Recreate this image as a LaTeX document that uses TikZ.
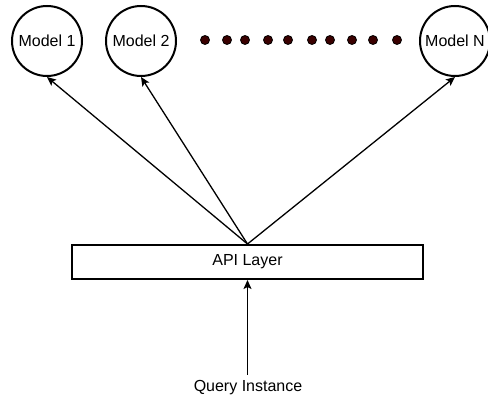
\documentclass[tikz,border=0pt]{standalone}
\usepackage{fontspec}
\setmainfont{Liberation Sans}
\usetikzlibrary{arrows.meta}

\begin{document}
\begin{tikzpicture}[x=1pt,y=-1pt,
    every node/.style={font=\fontsize{16}{19}\selectfont},
    model/.style={draw, circle, line width=2pt, minimum size=70pt, inner sep=0pt},
    layer/.style={draw, rectangle, line width=2pt, minimum width=351pt, minimum height=34pt},
    link/.style={line width=1.3pt, -{Stealth[length=9pt,width=8pt,inset=2pt]}}]
    % Frame of the picture
    \useasboundingbox (0,0) rectangle (488,403);
    % Models along the top
    \node[model] (m1) at (47,41) {Model 1};
    \node[model] (m2) at (141,41) {Model 2};
    \node[model] (mN) at (455,41) {Model N};
    % Dots between model 2 and model N
    \foreach \x in {205,227,245,268,288,312,330,352,373,397} {
        \fill[fill={rgb,255:red,58;green,0;blue,0}, draw=black, line width=0.8pt] (\x,40) circle (4.5pt);
    }
    % API layer and query
    \node[layer] (api) at (247.5,262) {API Layer};
    \node[inner sep=6pt] (query) at (248,388) {Query Instance};
    % Connectors
    \draw[link] (api.north) -- (m1.south);
    \draw[link] (api.north) -- (m2.south);
    \draw[link] (api.north) -- (mN.south);
    \draw[link] (query.north -| api.south) -- (api.south);
\end{tikzpicture}
\end{document}
